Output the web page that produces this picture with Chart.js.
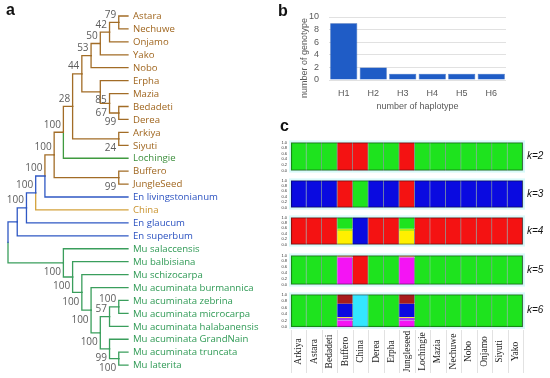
<!DOCTYPE html>
<html><head><meta charset="utf-8">
<script src="https://cdn.jsdelivr.net/npm/chart.js@4.4.1/dist/chart.umd.min.js"></script>
<style>
html,body{margin:0;padding:0;background:#fff;width:550px;height:378px;overflow:hidden}
body{position:relative}
canvas{position:absolute}
.lab{position:absolute;font:bold 16px "Liberation Sans",Arial,sans-serif;color:#111;line-height:16px}
</style></head><body>
<canvas id="tree" width="270" height="378" style="left:0;top:0"></canvas>
<canvas id="bars" width="264" height="118" style="left:286px;top:0"></canvas>
<canvas id="s0" style="left:270px"></canvas>
<canvas id="s1" style="left:270px"></canvas>
<canvas id="s2" style="left:270px"></canvas>
<canvas id="s3" style="left:270px"></canvas>
<canvas id="s4" style="left:270px"></canvas>
<div class="lab" style="left:6px;top:2px">a</div>
<div class="lab" style="left:278px;top:3px">b</div>
<div class="lab" style="left:280px;top:118px">c</div>
<script>
// ================= DATA =================
// (a) phylogeny (topology + bootstrap support)
const treeNewick = "(((((((((((((Astara,Nechuwe)79,Onjamo)42,Yako)50,Nobo)53,(Erpha,(Mazia,(Bedadeti,Derea)99)67)85)44,(Arkiya,Siyuti)24)28,Lochingie)100,(Buffero,JungleSeed)99)100,En livingstonianum)100,China)100,En glaucum)100,En superbum),(Mu salaccensis,(Mu balbisiana,(Mu schizocarpa,(Mu acuminata burmannica,(((Mu acuminata zebrina,Mu acuminata microcarpa)100,Mu acuminata halabanensis)57,(Mu acuminata GrandNain,(Mu acuminata truncata,Mu laterita)100)99)100)100)100)100)100);";
const groupEthiopia = ['Astara','Nechuwe','Onjamo','Yako','Nobo','Erpha','Mazia','Bedadeti','Derea','Arkiya','Siyuti','Buffero','JungleSeed'];
const groupLochingie = ['Lochingie'];
const groupEnsete = ['En livingstonianum','En glaucum','En superbum'];
const groupChina = ['China'];
const groupMusa = ['Mu salaccensis','Mu balbisiana','Mu schizocarpa','Mu acuminata burmannica','Mu acuminata zebrina','Mu acuminata microcarpa','Mu acuminata halabanensis','Mu acuminata GrandNain','Mu acuminata truncata','Mu laterita'];

// (b) haplotypes
const haplotypes = ['H1','H2','H3','H4','H5','H6'];
const genotypeCounts = [9, 2, 1, 1, 1, 1];

// (c) STRUCTURE membership, individuals in plot order
const individuals = ['Arkiya','Astara','Bedadeti','Buffero','China','Derea','Erpha','Jungleseed','Lochingie','Mazia','Nechuwe','Nobo','Onjamo','Siyuti','Yako'];
const k2Green   = [1,1,1,0,0,1,1,0,1,1,1,1,1,1,1];
const k2Red     = [0,0,0,1,1,0,0,1,0,0,0,0,0,0,0];
const k3Blue    = [1,1,1,0,0,1,1,0,1,1,1,1,1,1,1];
const k3Red     = [0,0,0,1,0,0,0,1,0,0,0,0,0,0,0];
const k3Green   = [0,0,0,0,1,0,0,0,0,0,0,0,0,0,0];
const k4Yellow  = [0,0,0,0.50,0,0,0,0.50,0,0,0,0,0,0,0];
const k4Lime    = [0,0,0,0.08,0,0,0,0.08,0,0,0,0,0,0,0];
const k4Green   = [0,0,0,0.42,0,0,0,0.42,0,0,0,0,0,0,0];
const k4Red     = [1,1,1,0,0,1,1,0,1,1,1,1,1,1,1];
const k4Blue    = [0,0,0,0,1,0,0,0,0,0,0,0,0,0,0];
const k5Magenta = [0,0,0,0.93,0,0,0,0.93,0,0,0,0,0,0,0];
const k5Tan     = [0,0,0,0.07,0,0,0,0.07,0,0,0,0,0,0,0];
const k5Green   = [1,1,1,0,0,1,1,0,1,1,1,1,1,1,1];
const k5Red     = [0,0,0,0,1,0,0,0,0,0,0,0,0,0,0];
const k6Magenta = [0,0,0,0.20,0,0,0,0.20,0,0,0,0,0,0,0];
const k6Violet  = [0,0,0,0.08,0,0,0,0.08,0,0,0,0,0,0,0];
const k6Yellow  = [0,0,0,0.03,0,0,0,0.03,0,0,0,0,0,0,0];
const k6Blue    = [0,0,0,0.40,0,0,0,0.40,0,0,0,0,0,0,0];
const k6DarkRed = [0,0,0,0.29,0,0,0,0.29,0,0,0,0,0,0,0];
const k6Green   = [1,1,1,0,0,1,1,0,1,1,1,1,1,1,1];
const k6Cyan    = [0,0,0,0,1,0,0,0,0,0,0,0,0,0,0];

// ================= STYLE / LAYOUT =================
const lineColor = {eth:'#a26c26', loch:'#3f9a3f', en:'#2f58c4', china:'#d4a23c', mu:'#3a9e5c'};
const textColor = {eth:'#a0661f', loch:'#3c8f3c', en:'#2b52c0', china:'#c9922c', mu:'#2f9a55'};
const bootBelow = ['Bedadeti|Derea','Mazia|Derea','Arkiya|Siyuti','Buffero|JungleSeed',
  'Mu salaccensis|Mu laterita','Mu balbisiana|Mu laterita','Mu schizocarpa|Mu laterita',
  'Mu acuminata burmannica|Mu laterita','Mu acuminata zebrina|Mu laterita',
  'Mu acuminata GrandNain|Mu laterita','Mu acuminata truncata|Mu laterita'];
const bootShift = {'Erpha|Derea':[9, 16]};
const C = {green:'#1ee31e', red:'#f41212', blue:'#0a0ae0', yellow:'#fff000', lime:'#b4ec10',
  magenta:'#f414f4', tan:'#d49a6c', violet:'#a838f0', darkred:'#a81c1c', cyan:'#34e6ff'};

// ================= TREE =================
function parseNewick(s){
  let i=0;
  function node(){
    const n={children:[]};
    if(s[i]==='('){
      i++;
      n.children.push(node());
      while(s[i]===','){i++; n.children.push(node());}
      i++; // ')'
    }
    let t='';
    while(i<s.length && !',();'.includes(s[i])) t+=s[i++];
    if(n.children.length) n.label=t; else n.name=t;
    return n;
  }
  return node();
}
const root = parseNewick(treeNewick);
const leaves=[], internals=[];
function groupOf(name){
  if(groupEthiopia.includes(name)) return 'eth';
  if(groupLochingie.includes(name)) return 'loch';
  if(groupEnsete.includes(name)) return 'en';
  if(groupChina.includes(name)) return 'china';
  return 'mu';
}
function walk(n){
  if(!n.children.length){
    n.y=leaves.length; n.h=0; n.group=groupOf(n.name); n.first=n.last=n.name; leaves.push(n); return;
  }
  n.children.forEach(walk);
  n.h=Math.max(...n.children.map(c=>c.h))+1;
  n.y=(n.children[0].y+n.children[n.children.length-1].y)/2;
  n.first=n.children[0].first; n.last=n.children[n.children.length-1].last;
  const gs=new Set(); (function col(m){ if(!m.children.length) gs.add(m.group); else m.children.forEach(col); })(n);
  n.group = gs.size===1 ? [...gs][0] : (gs.has('en') ? 'en' : 'eth');
  internals.push(n);
}
walk(root);
const H=root.h;
(function setD(n){ n.d=H-n.h; n.children.forEach(setD); })(root);

const edgeSets=[];
(function edges(n){
  n.children.forEach(c=>{
    edgeSets.push({data:[{x:n.d,y:n.y},{x:n.d,y:c.y},{x:c.d,y:c.y}], showLine:true,
      borderColor:lineColor[c.group], borderWidth:1.3, pointRadius:0, fill:false,
      borderJoinStyle:'miter', borderCapStyle:'square', tension:0});
    edges(c);
  });
})(root);

const treeText={id:'treeText', afterDatasetsDraw(chart){
  const {ctx}=chart, xs=chart.scales.x, ys=chart.scales.y;
  ctx.save();
  ctx.font='9.6px "Open Sans"'; ctx.textBaseline='middle'; ctx.textAlign='left';
  leaves.forEach(n=>{ ctx.fillStyle=textColor[n.group]; ctx.fillText(n.name, xs.getPixelForValue(n.d)+5, ys.getPixelForValue(n.y)+0.5); });
  ctx.font='10px "Open Sans"'; ctx.fillStyle='#5c5c5c'; ctx.textAlign='right';
  internals.forEach(n=>{
    if(!n.label) return;
    const key=n.first+'|'+n.last;
    const px=xs.getPixelForValue(n.d), py=ys.getPixelForValue(n.y);
    let dx=-2.5, dy=bootBelow.includes(key)?9.5:-7.5;
    if(bootShift[key]){dx+=bootShift[key][0]; dy+=bootShift[key][1];}
    ctx.fillText(n.label, px+dx, py+dy);
  });
  ctx.restore();
}};

new Chart(document.getElementById('tree'),{
  type:'scatter',
  data:{datasets:edgeSets},
  options:{responsive:false, animation:false, layout:{padding:0},
    plugins:{legend:{display:false}, tooltip:{enabled:false}},
    scales:{
      x:{type:'linear', display:false, min:-8/9.23, max:(270-8)/9.23},
      y:{type:'linear', display:false, reverse:true, min:-16/12.93, max:(378-16)/12.93}
    }},
  plugins:[treeText]
});

// ================= BAR CHART (b) =================
const axisFont={family:'"Liberation Sans", Arial, sans-serif', size:9};
const yTitle={id:'yTitle', afterDraw(chart){
  const ctx=chart.ctx; ctx.save();
  ctx.translate(19, 58); ctx.rotate(-Math.PI/2);
  ctx.font='9px "Liberation Sans"'; ctx.fillStyle='#595959'; ctx.textAlign='center'; ctx.textBaseline='middle';
  ctx.fillText('number of genotype',0,0); ctx.restore();
}};
new Chart(document.getElementById('bars'),{
  type:'bar',
  data:{labels:haplotypes, datasets:[{data:genotypeCounts, backgroundColor:'#1f5cc6', borderColor:'#1a4fae', borderWidth:0.6,
    barPercentage:0.92, categoryPercentage:1}]},
  options:{responsive:false, animation:false,
    layout:{padding:{left:0,right:44,top:17,bottom:0}},
    plugins:{legend:{display:false}, tooltip:{enabled:false}},
    scales:{
      x:{grid:{display:false, drawTicks:false}, border:{display:false},
        ticks:{font:axisFont, color:'#595959', padding:8},
        title:{display:true, text:'number of haplotype', font:axisFont, color:'#595959', padding:{top:0,bottom:6}},
        afterFit(s){s.height=38;}},
      y:{min:0, max:10, ticks:{stepSize:2, autoSkip:false, font:axisFont, color:'#595959', padding:10},
        grid:{color:'#d9d9d9', drawTicks:false, lineWidth:0.8}, border:{display:false},
        afterFit(s){s.width=43;}}
    }},
  plugins:[yTitle]
});

// ================= STRUCTURE STRIPS (c) =================
const strips=[
  {k:2, sets:[[k2Green,C.green],[k2Red,C.red]]},
  {k:3, sets:[[k3Blue,C.blue],[k3Red,C.red],[k3Green,C.green]]},
  {k:4, sets:[[k4Yellow,C.yellow],[k4Lime,C.lime],[k4Green,C.green],[k4Red,C.red],[k4Blue,C.blue]]},
  {k:5, sets:[[k5Magenta,C.magenta],[k5Tan,C.tan],[k5Green,C.green],[k5Red,C.red]]},
  {k:6, sets:[[k6Magenta,C.magenta],[k6Violet,C.violet],[k6Yellow,C.yellow],[k6Blue,C.blue],[k6DarkRed,C.darkred],[k6Green,C.green],[k6Cyan,C.cyan]]}
];
const stripTop=[140,178,215,253,292], stripH=[33,32,32,34,35];

const stripDeco={id:'stripDeco',
  beforeDatasetsDraw(chart){
    const {ctx,chartArea:a}=chart; ctx.save();
    ctx.fillStyle='rgba(170,245,245,0.45)';
    ctx.fillRect(a.left-2,a.top-2,a.right-a.left+4,a.bottom-a.top+4);
    ctx.restore();
  },
  afterDatasetsDraw(chart){
    const {ctx,chartArea:a}=chart; ctx.save();
    ctx.strokeStyle='rgba(0,0,0,0.38)'; ctx.lineWidth=1.2;
    ctx.strokeRect(a.left+0.5,a.top+0.5,a.right-a.left-1,a.bottom-a.top-1);
    ctx.font='italic 10px "Liberation Sans"'; ctx.fillStyle='#111'; ctx.textBaseline='middle'; ctx.textAlign='left';
    ctx.fillText('k='+chart.options.kValue, a.right+4, (a.top+a.bottom)/2);
    if(chart.options.showNames){
      const xs=chart.scales.x;
      ctx.strokeStyle='#e2e2e2'; ctx.lineWidth=1;
      for(let i=0;i<=individuals.length;i++){
        const x=Math.round(xs.getPixelForValue(i-0.5))+0.5;
        ctx.beginPath(); ctx.moveTo(x,a.bottom+3); ctx.lineTo(x,a.bottom+46); ctx.stroke();
      }
      ctx.font='9.5px "Liberation Serif"'; ctx.fillStyle='#222'; ctx.textAlign='center';
      individuals.forEach((nm,i)=>{
        ctx.save(); ctx.translate(xs.getPixelForValue(i), a.bottom+24.5); ctx.rotate(-Math.PI/2);
        ctx.fillText(nm,0,0); ctx.restore();
      });
    }
    ctx.restore();
  }
};

strips.forEach((st,i)=>{
  const cv=document.getElementById('s'+i);
  const last=i===strips.length-1;
  const top=stripTop[i]-4;
  const h= last ? 378-top : stripH[i]+8;
  cv.width=280; cv.height=h; cv.style.top=top+'px';
  new Chart(cv,{
    type:'bar',
    data:{labels:individuals, datasets:st.sets.map(([vals,col])=>({data:vals, backgroundColor:col,
      borderColor:'rgba(0,0,0,0.38)', borderWidth:{top:0,right:1,bottom:0,left:0}, borderSkipped:false,
      barPercentage:1, categoryPercentage:1}))},
    options:{responsive:false, animation:false, kValue:st.k, showNames:last,
      layout:{padding:{left:0,right:27,top:4,bottom:h-4-stripH[i]}},
      plugins:{legend:{display:false}, tooltip:{enabled:false}},
      scales:{
        x:{stacked:true, display:false},
        y:{stacked:true, min:0, max:1, grid:{display:false, drawTicks:false}, border:{display:false},
          ticks:{stepSize:0.2, autoSkip:false, padding:4, color:'#333', font:{family:'"Liberation Sans"', size:4},
            callback:v=>v.toFixed(1)},
          afterFit(s){s.width=21;}}
      }},
    plugins:[stripDeco]
  });
});
</script>
</body></html>
